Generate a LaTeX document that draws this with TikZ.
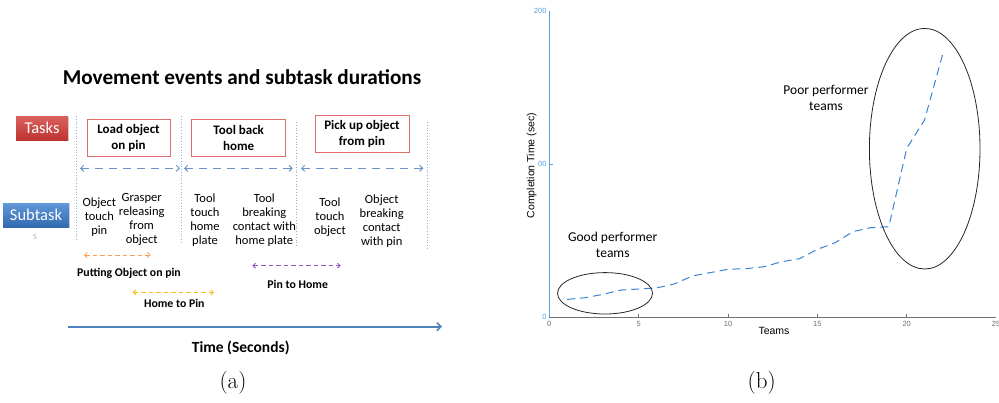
\documentclass[tikz,border=0pt]{standalone}
\usepackage{fontspec}
\newfontfamily\carlitofont{Carlito}
\newfontfamily\helfont{Liberation Sans}
\usetikzlibrary{arrows.meta,shadows}
\definecolor{taskred}{HTML}{D23A35}
\definecolor{subblue}{HTML}{3B7DD0}
\definecolor{guide}{HTML}{8DB3E2}
\definecolor{spanblue}{HTML}{4F81BD}
\definecolor{putorange}{HTML}{F5A05A}
\definecolor{homeyellow}{HTML}{F7BE1A}
\definecolor{pinpurple}{HTML}{8E5BC2}
\definecolor{axisblue}{HTML}{5AA0DC}
\definecolor{curveblue}{HTML}{3C82D2}
\definecolor{tickgray}{HTML}{707070}
\tikzset{
  labelbox/.style={minimum width=52pt, minimum height=24pt, text=white,
    font=\carlitofont\fontsize{16.5}{18}\selectfont, drop shadow={shadow xshift=1pt, shadow yshift=-1pt, opacity=0.3}},
  taskbox/.style={draw=taskred!75, line width=1pt, fill=white, align=center,
    font=\carlitofont\bfseries\fontsize{13}{15.5}\selectfont, minimum height=37pt},
  subtext/.style={align=center, font=\carlitofont\fontsize{12.5}{14}\selectfont},
  spanarrow/.style={spanblue!85, line width=1pt, dash pattern=on 8pt off 6pt,
    {Straight Barb[length=3pt,width=6pt]}-{Straight Barb[length=3pt,width=6pt]}},
  eventarrow/.style={line width=1pt, dash pattern=on 4.5pt off 3pt,
    {Straight Barb[length=2.5pt,width=5pt]}-{Straight Barb[length=2.5pt,width=5pt]}},
  eventlabel/.style={font=\carlitofont\bfseries\fontsize{11.8}{13}\selectfont},
  guideline/.style={guide, line width=0.8pt, dotted},
  caption/.style={font=\fontsize{23}{26}\selectfont},
  ticklabel/.style={font=\helfont\fontsize{7.5}{8}\selectfont, inner sep=0pt},
  note/.style={align=center, font=\carlitofont\fontsize{13.5}{16.7}\selectfont}
}
\begin{document}
\begin{tikzpicture}[x=1pt, y=-1pt]
\useasboundingbox (0,0) rectangle (999,402);

% ---------- (a) timeline of movement events ----------
\node[font=\carlitofont\bfseries\fontsize{21.2}{23}\selectfont] (title) at (242,77) {Movement events and subtask durations};

\node[labelbox, top color=taskred!80!white, bottom color=taskred!90!black] (tasks) at (42,128) {Tasks};
\node[labelbox, minimum width=66pt, top color=subblue!80!white, bottom color=subblue!85!black] (subtask) at (36,215) {Subtask};
\node[font=\carlitofont\fontsize{11}{12}\selectfont, text=black!25] (s) at (35,237) {s};

% dotted guides between tasks
\coordinate (g1t) at (76,116);  \coordinate (g1b) at (76,241);
\coordinate (g2t) at (181,116); \coordinate (g2b) at (181,244);
\coordinate (g3t) at (296,122); \coordinate (g3b) at (296,246);
\coordinate (g4t) at (427,122); \coordinate (g4b) at (427,250);
\draw[guideline] (g1t) -- (g1b);
\draw[guideline] (g2t) -- (g2b);
\draw[guideline] (g3t) -- (g3b);
\draw[guideline] (g4t) -- (g4b);

\node[taskbox, minimum width=83pt] (load) at (128.5,138) {Load object\\on pin};
\node[taskbox, minimum width=94pt] (back) at (238.7,138) {Tool back\\home};
\node[taskbox, minimum width=94pt] (pick) at (362,134) {Pick up object\\from pin};

% task spans
\coordinate (s1a) at (80,168.3);  \coordinate (s1b) at (180,168.3);
\coordinate (s2a) at (184,168.3); \coordinate (s2b) at (292.7,168.3);
\coordinate (s3a) at (301,168.3); \coordinate (s3b) at (423.3,168.3);
\draw[spanarrow] (s1a) -- (s1b);
\draw[spanarrow] (s2a) -- (s2b);
\draw[spanarrow] (s3a) -- (s3b);

% subtasks
\node[subtext] (st1) at (99.3,217) {Object\\touch\\pin};
\node[subtext] (st2) at (141.7,220) {Grasper\\releasing\\from\\object};
\node[subtext] (st3) at (205,220) {Tool\\touch\\home\\plate};
\node[subtext] (st4) at (264.3,220) {Tool\\breaking\\contact with\\home plate};
\node[subtext] (st5) at (330,217) {Tool\\touch\\object};
\node[subtext] (st6) at (381.7,221.5) {Object\\breaking\\contact\\with pin};

% movement events
\coordinate (e1a) at (84,255);    \coordinate (e1b) at (150.7,255);
\coordinate (e2a) at (132.7,292.3); \coordinate (e2b) at (214,292.3);
\coordinate (e3a) at (252.3,265.7); \coordinate (e3b) at (340.7,265.7);
\draw[eventarrow, putorange] (e1a) -- (e1b);
\draw[eventarrow, homeyellow] (e2a) -- (e2b);
\draw[eventarrow, pinpurple] (e3a) -- (e3b);
\node[eventlabel] (putlbl) at (129,273.3) {Putting Object on pin};
\node[eventlabel] (homelbl) at (174.3,303.3) {Home to Pin};
\node[eventlabel] (pinlbl) at (297.7,284.3) {Pin to Home};

% time axis
\coordinate (t0) at (68.3,326.7);
\coordinate (t1) at (442,326.7);
\draw[spanblue, line width=2pt, -{Straight Barb[length=4pt,width=8pt,line width=1.6pt]}] (t0) -- (t1);
\node[font=\carlitofont\bfseries\fontsize{15.5}{17}\selectfont] (timelbl) at (240.7,348.3) {Time (Seconds)};

\node[caption] (capa) at (233,383) {(a)};

% ---------- (b) completion time per team ----------
\begin{scope}[shift={(549.3,317.3)}, x=17.87pt, y=1.53pt]
  \coordinate (o) at (0,0);
  \coordinate (xend) at (25,0);
  \coordinate (ytop) at (0,200);
  \draw[tickgray, line width=0.9pt] (o) -- (xend);
  \draw[axisblue, line width=1pt] (o) -- (ytop);
  \foreach \t in {5,10,15,20} {
    \draw[tickgray, line width=0.6pt] (\t,0) -- (\t,2);
  }
  \draw[axisblue, line width=0.6pt] (0,100) -- (0.2,100);
  \foreach \t in {0,5,10,15,20,25} {
    \node[ticklabel, text=tickgray, anchor=north] (xt\t) at (\t,-2.5) {\t};
  }
  \node[ticklabel, text=axisblue, anchor=east] (yt0) at (-0.15,0) {0};
  \node[ticklabel, text=axisblue, anchor=east] (yt100) at (-0.15,100) {00};
  \node[ticklabel, text=axisblue, anchor=east] (yt200) at (-0.15,200) {200};

  \draw[curveblue, line width=1pt, dash pattern=on 8pt off 5pt]
    plot coordinates {(1,11.7) (2,12.8) (3,15) (4,17.8) (5,18.5) (6,19.2)
      (7,21.8) (8,27) (9,29.2) (10,31.4) (11,31.8) (12,33) (13,36.3)
      (14,38.3) (15,44.4) (16,48.8) (17,56) (18,58.6) (19,59.2)
      (20,110.5) (21,129) (22,171.4)};
\end{scope}

\node[font=\helfont\fontsize{10.5}{12}\selectfont, rotate=90] (ylbl) at (531.7,165.7) {Completion Time (sec)};
\node[font=\helfont\fontsize{10.5}{12}\selectfont] (xlbl) at (774,330.7) {Teams};

\draw[black!85, line width=0.8pt] (605,293.3) ellipse [x radius=47.5pt, y radius=20.7pt];
\draw[black!85, line width=0.8pt] (924.7,148.7) ellipse [x radius=55.3pt, y radius=120.3pt];

\node[note] (good) at (612.7,245) {Good performer\\teams};
\node[note] (poor) at (826,98) {Poor performer\\teams};

\node[caption] (capb) at (761.7,383) {(b)};
\end{tikzpicture}
\end{document}
